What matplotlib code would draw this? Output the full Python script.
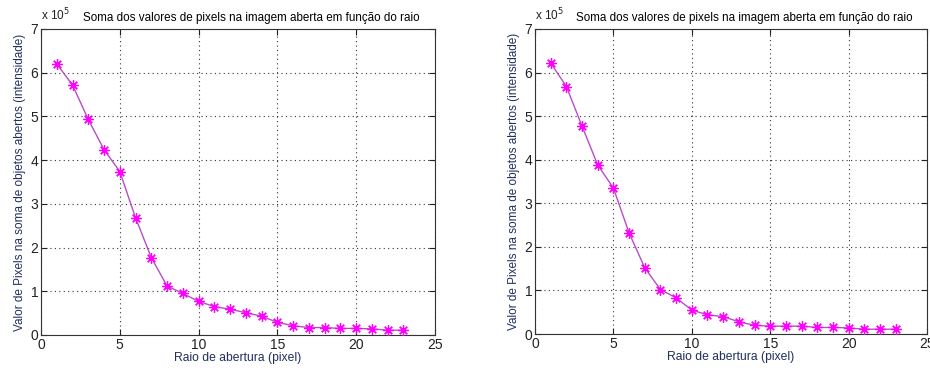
import matplotlib
matplotlib.use("Agg")
import matplotlib.pyplot as plt

plt.rcParams['font.family'] = ['Liberation Sans', 'DejaVu Sans']

raio = list(range(1, 24))
soma_esq = [6.20, 5.72, 4.93, 4.24, 3.74, 2.68, 1.77, 1.12, 0.95, 0.77, 0.65, 0.59,
            0.51, 0.43, 0.29, 0.21, 0.17, 0.17, 0.15, 0.15, 0.14, 0.11, 0.11]
soma_dir = [6.22, 5.68, 4.77, 3.88, 3.35, 2.32, 1.52, 1.02, 0.83, 0.55, 0.44, 0.40,
            0.28, 0.20, 0.18, 0.18, 0.18, 0.15, 0.15, 0.14, 0.11, 0.11, 0.11]
xticks = [0, 5, 10, 15, 20, 25]
yticks = [0, 1, 2, 3, 4, 5, 6, 7]

titulo = "Soma dos valores de pixels na imagem aberta em função do raio"
xlab = "Raio de abertura (pixel)"
ylab = "Valor de Pixels na soma de objetos abertos (intensidade)"

fig = plt.figure(figsize=(9.30, 3.71), dpi=100)
label_color = '#1f2f5f'
axes_pos = [[41/930, 36/371, 394/930, 306/371],
            [535/930, 37/371, 392/930, 305/371]]

for pos, vals in zip(axes_pos, [soma_esq, soma_dir]):
    ax = fig.add_axes(pos)
    ax.plot(raio, vals, color='#b84cc8', lw=1.0, marker=(8, 2, 0), markersize=7.5,
            markeredgewidth=0.9,
            markerfacecolor='#ff00ff', markeredgecolor='#ff00ff', zorder=3)
    ax.set_xlim(0, 25)
    ax.set_ylim(0, 7)
    ax.set_xticks(xticks)
    ax.set_yticks(yticks)
    ax.grid(True, linestyle=(0, (1, 3)), color='#333333', lw=0.8)
    ax.tick_params(direction='in', top=True, right=True, labelsize=10,
                   colors='#222222', length=4, pad=2)
    for s in ax.spines.values():
        s.set_color('#333333')
        s.set_linewidth(0.8)
    ax.set_title(titulo, fontsize=8.4, pad=6, x=0.535)
    ax.set_xlabel(xlab, fontsize=8.7, color=label_color, labelpad=0)
    ax.set_ylabel(ylab, fontsize=8.5, color=label_color, labelpad=3)
    ax.text(0.0, 1.02, r"x 10$^5$", transform=ax.transAxes, fontsize=8.5,
            ha='left', va='bottom', color='#222222')

fig.savefig("out.png", dpi=100)
